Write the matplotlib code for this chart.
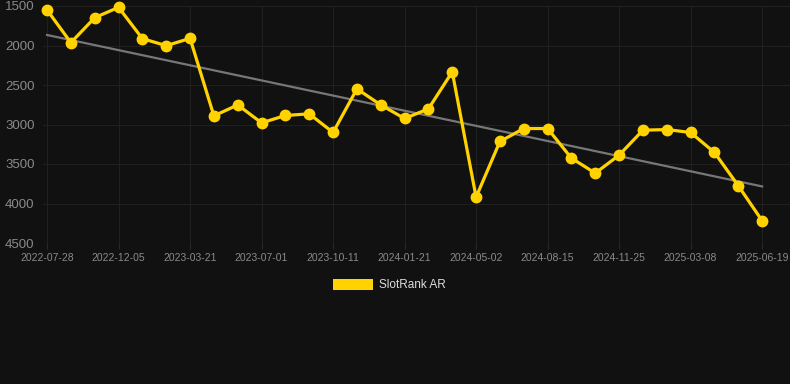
import matplotlib
matplotlib.use("Agg")
import matplotlib.pyplot as plt
import numpy as np
from matplotlib.patches import Patch

plt.rcParams['font.family'] = ['Liberation Sans', 'DejaVu Sans']

tick_dates = ["2022-07-28", "2022-12-05", "2023-03-21", "2023-07-01", "2023-10-11",
              "2024-01-21", "2024-05-02", "2024-08-15", "2024-11-25", "2025-03-08",
              "2025-06-19"]
rank = [1550, 1964, 1648, 1517, 1913, 2002, 1910, 2891, 2752, 2979, 2886,
        2865, 3101, 2549, 2752, 2924, 2802, 2334, 3919, 3215, 3051, 3051,
        3426, 3616, 3388, 3072, 3064, 3101, 3354, 3775, 4218]
series_name = "SlotRank AR"

W, H = 790, 384
fig = plt.figure(figsize=(W / 100, H / 100), dpi=100, facecolor="#111111")
ax = fig.add_axes([43 / W, 1 - 243 / H, (W - 43) / W, (243 - 6) / H])
ax.set_facecolor("#111111")

x = np.arange(len(rank))
y = np.array(rank, dtype=float)

# trend line (linear regression)
k, b = np.polyfit(x, y, 1)
ax.plot([x[0], x[-1]], [k * x[0] + b, k * x[-1] + b], color="#777777", lw=1.6, zorder=2)

ax.plot(x, y, color="#FFD200", lw=2.3, marker="o", markersize=7.5,
        markerfacecolor="#FFD200", markeredgecolor="#FFD200", zorder=3, clip_on=False)

ax.set_ylim(4500, 1500)
ax.set_yticks([1500, 2000, 2500, 3000, 3500, 4000, 4500])
ax.set_xlim(-0.17, 31.17)
ax.set_xticks(x[::3])
ax.set_xticklabels(tick_dates)

ax.grid(True, color="#202020", lw=0.8)
ax.set_axisbelow(True)
for s in ax.spines.values():
    s.set_visible(False)
ax.tick_params(axis="y", length=0, pad=6, labelcolor="#8a8a8a", labelsize=9.5)
ax.tick_params(axis="x", length=4, color="#2a2a2a", pad=3, labelcolor="#8a8a8a", labelsize=7.5)

handle = Patch(facecolor="#FFD200", edgecolor="none")
fig.legend([handle], [series_name], loc="center", bbox_to_anchor=(0.493, 1 - 285 / H),
           frameon=False, labelcolor="#dddddd", fontsize=8.5, handlelength=3.4,
           handleheight=1.1, handletextpad=0.5)

fig.savefig("out.png", dpi=100, facecolor="#111111")
